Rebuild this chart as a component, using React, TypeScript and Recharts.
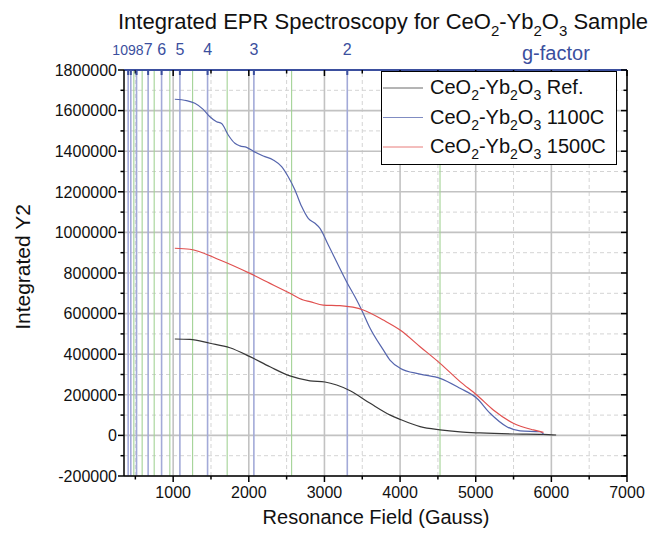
import React from 'react';
import { ComposedChart, Line, XAxis, YAxis, ReferenceLine, Legend } from 'recharts';

// ---------- data ----------
const refField = [1022, 1221, 1486, 1750, 2015, 2280, 2544, 2809, 3007, 3162, 3340, 3605, 3870, 4000, 4265, 4528, 4793, 5057, 5494, 5891, 6063];
const refValue = [475000, 473000, 454000, 432000, 388000, 338000, 293000, 269000, 263000, 248000, 220000, 158000, 100000, 79000, 43000, 27000, 17000, 12000, 7000, 5000, 2000];

const s1100Field = [1022, 1177, 1287, 1397, 1486, 1574, 1640, 1728, 1816, 1882, 1971, 2068, 2191, 2323, 2434, 2521, 2610, 2699, 2786, 2875, 2941, 3051, 3162, 3294, 3426, 3492, 3602, 3778, 3866, 4000, 4264, 4529, 4793, 5014, 5190, 5411, 5587, 5852, 5896];
const s1100Value = [1656000, 1649000, 1636000, 1606000, 1570000, 1545000, 1537000, 1480000, 1439000, 1426000, 1419000, 1398000, 1376000, 1357000, 1324000, 1274000, 1209000, 1127000, 1069000, 1045000, 1020000, 938000, 854000, 756000, 667000, 618000, 529000, 421000, 371000, 331000, 302000, 281000, 232000, 183000, 109000, 43000, 22000, 18000, 7000];

const s1500Field = [1022, 1221, 1618, 2015, 2280, 2544, 2720, 2808, 2984, 3205, 3513, 3778, 4000, 4264, 4529, 4793, 5014, 5233, 5497, 5762, 5896];
const s1500Value = [922000, 917000, 864000, 798000, 749000, 700000, 667000, 659000, 642000, 639000, 618000, 568000, 519000, 437000, 355000, 265000, 199000, 125000, 60000, 27000, 15000];

const seriesNames = ['CeO2-Yb2O3 Ref.', 'CeO2-Yb2O3 1100C', 'CeO2-Yb2O3 1500C'];

// g-factor (top axis) positions in Gauss and their labels
const gFactorField = [405, 440, 516, 669, 847, 1089, 1455, 2067, 3302];
const gFactorLabels = ['10', '9', '8', '7', '6', '5', '4', '3', '2'];
const halfGField = [480, 590, 749, 956, 1257, 1714, 2566, 4528];

const xMajorTicks = [1000, 2000, 3000, 4000, 5000, 6000, 7000];
const xMinorTicks = [500, 1500, 2500, 3500, 4500, 5500, 6500];
const yMajorTicks = [-200000, 0, 200000, 400000, 600000, 800000, 1000000, 1200000, 1400000, 1600000, 1800000];
const yMinorTicks = [-100000, 100000, 300000, 500000, 700000, 900000, 1100000, 1300000, 1500000, 1700000];

const xDomain = [350, 7000];
const yDomain = [-200000, 1800000];

const refData = refField.map((x, i) => ({ x, y: refValue[i] }));
const s1100Data = s1100Field.map((x, i) => ({ x, y: s1100Value[i] }));
const s1500Data = s1500Field.map((x, i) => ({ x, y: s1500Value[i] }));

const xTicks = [...xMinorTicks, ...xMajorTicks].sort((a, b) => a - b);
const topTicks = [...xTicks, ...gFactorField].sort((a, b) => a - b);
const yTicks = [...yMinorTicks, ...yMajorTicks].sort((a, b) => a - b);

// ---------- styles ----------
const FONT = '"Liberation Sans", Arial, Helvetica, sans-serif';
const BLUE_TEXT = '#3b4f9e';
const REF_COLOR = '#383838';
const C1100 = '#5565ad';
const C1500 = '#e0504f';
const TICK = 6;
const MARGIN = 3;
const G_LABEL_DX = [-8, 1, 3, 0, 0, 0, 0, 0, 0];

function chem(s: string, size: number, keyBase: string) {
  const segs: { t: string; sub: boolean }[] = [];
  for (let i = 0; i < s.length; i++) {
    const ch = s[i];
    const sub = /\d/.test(ch) && i > 0 && /[A-Za-z]/.test(s[i - 1]);
    const last = segs[segs.length - 1];
    if (last && last.sub === sub) last.t += ch;
    else segs.push({ t: ch, sub });
  }
  const shift = Math.round(size * 0.3);
  let cur = 0;
  return segs.map((sg, i) => {
    const target = sg.sub ? shift : 0;
    const dy = target - cur;
    cur = target;
    return (
      <tspan key={keyBase + i} dy={dy} fontSize={sg.sub ? Math.round(size * 0.68) : size}>
        {sg.t}
      </tspan>
    );
  });
}

const BottomTick = (p: any) => {
  const v = p.payload.value;
  const major = v % 1000 === 0;
  const axisY = p.y - TICK - MARGIN;
  return (
    <g>
      <line x1={p.x} x2={p.x} y1={axisY} y2={axisY + (major ? 6 : 3.5)} stroke="#000" strokeWidth={1.5} />
      {major && (
        <text x={p.x} y={axisY + 22} textAnchor="middle" fontSize={16} fill="#111" fontFamily={FONT}>
          {v}
        </text>
      )}
    </g>
  );
};

const TopTick = (p: any) => {
  const v = p.payload.value;
  const axisY = p.y + TICK + MARGIN;
  const gi = gFactorField.indexOf(v);
  if (gi >= 0) {
    const crowded = gi < 3;
    return (
      <g>
        <line x1={p.x} x2={p.x} y1={axisY} y2={axisY + 5} stroke={BLUE_TEXT} strokeWidth={2} />
        <text
          x={p.x}
          dx={G_LABEL_DX[gi]}
          y={axisY - 15}
          textAnchor="middle"
          fontSize={crowded ? 14 : 16}
          fill={BLUE_TEXT}
          fontFamily={FONT}
        >
          {gFactorLabels[gi]}
        </text>
      </g>
    );
  }
  const major = v % 1000 === 0;
  return <line x1={p.x} x2={p.x} y1={axisY} y2={axisY + (major ? 6 : 3.5)} stroke="#000" strokeWidth={1.5} />;
};

const LeftTick = (p: any) => {
  const v = p.payload.value;
  const major = v % 200000 === 0;
  const axisX = p.x + TICK + MARGIN;
  return (
    <g>
      <line x1={axisX - (major ? 6 : 3.5)} x2={axisX} y1={p.y} y2={p.y} stroke="#000" strokeWidth={1.5} />
      {major && (
        <text x={axisX - 7} y={p.y} dy="0.36em" textAnchor="end" fontSize={16} fill="#111" fontFamily={FONT}>
          {v}
        </text>
      )}
    </g>
  );
};

const RightTick = (p: any) => {
  const v = p.payload.value;
  const major = v % 200000 === 0;
  const axisX = p.x - TICK - MARGIN;
  return <line x1={axisX - (major ? 6 : 3.5)} x2={axisX} y1={p.y} y2={p.y} stroke="#000" strokeWidth={1.5} />;
};

const LegendBox = (props: any) => {
  const payload = [...(props.payload || [])].sort(
    (a: any, b: any) => seriesNames.indexOf(String(a.value)) - seriesNames.indexOf(String(b.value))
  );
  return (
    <svg width={236} height={94} style={{ display: 'block' }}>
      <rect x={0.5} y={0.5} width={235} height={93} fill="#fff" stroke="#000" strokeWidth={1} />
      {payload.map((e: any, i: number) => {
        const cy = 17 + i * 29.5;
        return (
          <g key={'lg' + i}>
            <line x1={2} x2={42} y1={cy} y2={cy} stroke={e.color} strokeWidth={1} strokeOpacity={0.75} />
            <text x={49} y={cy + 6} fontSize={20} fill="#111" fontFamily={FONT}>
              {chem(String(e.value), 20, 'l' + i)}
            </text>
          </g>
        );
      })}
    </svg>
  );
};

export default function App() {
  return (
    <div style={{ position: 'absolute', left: 0, top: 0, width: 651, height: 535, background: '#fff' }}>
      <ComposedChart width={651} height={535} margin={{ top: 50, right: 23, bottom: 29, left: 0 }}>
        {yMinorTicks.map((v) => (
          <ReferenceLine key={'ym' + v} y={v} stroke="#d4d4d4" strokeDasharray="4 3" strokeWidth={1} />
        ))}
        {xMinorTicks.map((v) => (
          <ReferenceLine key={'xm' + v} x={v} stroke="#d4d4d4" strokeDasharray="4 3" strokeWidth={1} />
        ))}
        {yMajorTicks.map((v) => (
          <ReferenceLine key={'yM' + v} y={v} stroke="#c2c2c2" strokeWidth={1.6} />
        ))}
        {xMajorTicks.map((v) => (
          <ReferenceLine key={'xM' + v} x={v} stroke="#c2c2c2" strokeWidth={1.6} />
        ))}
        {halfGField.map((v) => (
          <ReferenceLine key={'hg' + v} x={v} stroke="#a3d396" strokeWidth={1.1} />
        ))}
        {gFactorField.map((v) => (
          <ReferenceLine key={'g' + v} x={v} stroke="#a3aad8" strokeWidth={1.6} />
        ))}

        <XAxis
          xAxisId={0}
          type="number"
          dataKey="x"
          domain={xDomain}
          ticks={xTicks}
          interval={0}
          allowDataOverflow
          height={30}
          tickSize={TICK}
          tickMargin={MARGIN}
          tickLine={false}
          axisLine={{ stroke: '#000', strokeWidth: 1.5 }}
          tick={(p: any) => <BottomTick {...p} />}
        />
        <XAxis
          xAxisId="top"
          orientation="top"
          type="number"
          dataKey="x"
          domain={xDomain}
          ticks={topTicks}
          interval={0}
          allowDataOverflow
          height={20}
          tickSize={TICK}
          tickMargin={MARGIN}
          tickLine={false}
          axisLine={{ stroke: BLUE_TEXT, strokeWidth: 2 }}
          tick={(p: any) => <TopTick {...p} />}
        />
        <YAxis
          yAxisId={0}
          type="number"
          domain={yDomain}
          ticks={yTicks}
          interval={0}
          allowDataOverflow
          width={124}
          tickSize={TICK}
          tickMargin={MARGIN}
          tickLine={false}
          axisLine={{ stroke: '#000', strokeWidth: 1.5 }}
          tick={(p: any) => <LeftTick {...p} />}
        />
        <YAxis
          yAxisId="r"
          orientation="right"
          type="number"
          domain={yDomain}
          ticks={yTicks}
          interval={0}
          allowDataOverflow
          width={1}
          tickSize={TICK}
          tickMargin={MARGIN}
          tickLine={false}
          axisLine={{ stroke: '#000', strokeWidth: 1.5 }}
          tick={(p: any) => <RightTick {...p} />}
        />

        <Line data={refData} dataKey="y" name={seriesNames[0]} type="monotone" stroke={REF_COLOR} strokeWidth={1.2} dot={false} isAnimationActive={false} />
        <Line data={s1100Data} dataKey="y" name={seriesNames[1]} type="monotone" stroke={C1100} strokeWidth={1.2} dot={false} isAnimationActive={false} />
        <Line data={s1500Data} dataKey="y" name={seriesNames[2]} type="monotone" stroke={C1500} strokeWidth={1.2} dot={false} isAnimationActive={false} />

        <Legend
          layout="vertical"
          align="center"
          verticalAlign="middle"
          content={(p: any) => <LegendBox {...p} />}
          wrapperStyle={{ position: 'absolute', left: 381, top: 71, width: 236, height: 94 }}
        />
      </ComposedChart>

      <svg width={651} height={535} style={{ position: 'absolute', left: 0, top: 0, pointerEvents: 'none' }}>
        <text x={383} y={29} textAnchor="middle" fontSize={22} fill="#111" fontFamily={FONT}>
          {chem('Integrated EPR Spectroscopy for CeO2-Yb2O3 Sample', 22, 't')}
        </text>
        <text x={522} y={60} fontSize={20} fill={BLUE_TEXT} fontFamily={FONT}>
          g-factor
        </text>
        <text x={376} y={524} textAnchor="middle" fontSize={20} fill="#111" fontFamily={FONT}>
          Resonance Field (Gauss)
        </text>
        <text transform="translate(22,267) rotate(-90)" textAnchor="middle" dy="0.36em" fontSize={21} fill="#111" fontFamily={FONT}>
          Integrated Y2
        </text>
      </svg>
    </div>
  );
}
